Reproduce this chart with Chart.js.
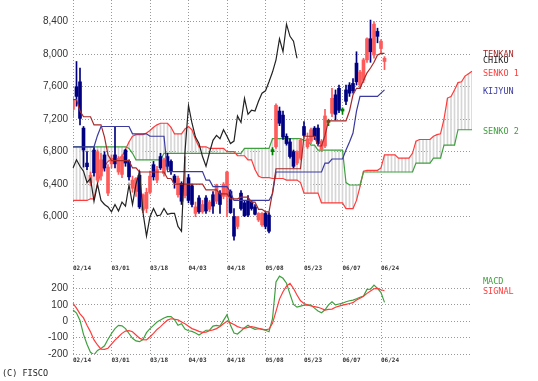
<!DOCTYPE html>
<html><head><meta charset="utf-8">
<script src="https://cdn.jsdelivr.net/npm/chart.js@4.4.1/dist/chart.umd.min.js"></script>
<style>
html,body{margin:0;padding:0;background:#fff;width:538px;height:381px;overflow:hidden;position:relative}
canvas{position:absolute;left:0}
#c1{top:0}
#c2{top:262px}
.lbl{position:absolute;font-family:"DejaVu Sans Mono",monospace;font-size:8.5px;line-height:10px;white-space:pre}
</style></head><body>
<canvas id="c1" width="538" height="264"></canvas>
<canvas id="c2" width="538" height="119"></canvas>
<div class="lbl" style="left:483px;top:49px;color:#a52a2a">TENKAN</div>
<div class="lbl" style="left:483px;top:55px;color:#222">CHIKO</div>
<div class="lbl" style="left:483px;top:68px;color:#ff3b3b">SENKO 1</div>
<div class="lbl" style="left:483px;top:86px;color:#3a3aa0">KIJYUN</div>
<div class="lbl" style="left:483px;top:126px;color:#3fa03f">SENKO 2</div>
<div class="lbl" style="left:483px;top:276px;color:#3fa03f">MACD</div>
<div class="lbl" style="left:483px;top:286px;color:#ff3b3b">SIGNAL</div>
<div class="lbl" style="left:2px;top:368px;color:#222">(C) FISCO</div>
<script>
// ---- data ----
const tickLabels = ['02/14','03/01','03/18','04/03','04/18','05/08','05/23','06/07','06/24'];
const TICK_STEP = 11;
const N = 115;
const mainTicks = [6000, 6400, 6800, 7200, 7600, 8000, 8400];
const macdTicks = [-200, -100, 0, 100, 200];

const open = [7320,7600,7660,7090,6660,6420,6820,6450,6500,6760,
 6290,6650,6760,6550,6520,6820,6680,6350,6310,6510,
 6080,6100,6300,6640,6450,6740,6530,6740,6680,6500,
 6270,6410,6260,6480,6380,6040,6230,6060,6230,6090,
 6270,6190,6290,6250,6250,6310,6000,5880,6290,6170,
 6190,6180,6120,5960,5900,6040,6020,6800,6860,7300,
 7250,6990,6920,6800,6660,6720,7110,6860,6930,7090,
 7090,6830,6870,7160,7272,7500,7580,7300,7560,7620,
 7640,7890,7620,7680,7930,8190,7990,8280,8070,7910];
const high = [7470,7910,7830,7110,6800,6550,6850,6820,6780,6800,
 6640,6760,7100,6740,6760,6830,6700,6500,6480,6560,
 6280,6350,6560,6680,6620,6780,6720,6780,6700,6520,
 6500,6430,6740,6520,6400,6180,6260,6200,6260,6200,
 6310,6400,6320,6420,6560,6330,6100,6000,6320,6200,
 6260,6200,6150,6050,6050,6060,6050,6850,7390,7350,
 7300,7020,6960,6820,6810,6960,7170,7030,7090,7110,
 7130,6950,7320,7200,7580,7560,7620,7340,7620,7650,
 7700,8030,7800,7950,8200,8420,8400,8320,8180,7970];
const low = [7230,7360,7130,6610,6580,6380,6500,6430,6450,6560,
 6260,6600,6600,6520,6480,6620,6450,6300,6250,6100,
 6050,6050,6280,6450,6420,6580,6500,6580,6520,6350,
 6240,6150,6230,6170,6120,6000,6040,6040,6040,6060,
 6040,6160,6040,6220,6000,6040,5710,5850,6080,6000,
 6000,6080,6020,5940,5880,5850,5800,6760,6840,7120,
 6950,6880,6720,6600,6640,6700,6980,6840,6900,6950,
 6880,6800,6850,7120,7230,7190,7280,7260,7380,7480,
 7520,7620,7580,7650,7900,7900,7950,8140,8020,7810];
const close = [7430,7480,7210,6820,6615,6510,6540,6800,6700,6600,
 6610,6720,6650,6720,6740,6660,6490,6450,6470,6120,
 6270,6300,6500,6490,6580,6600,6700,6620,6560,6420,
 6470,6190,6400,6200,6150,6120,6060,6150,6070,6180,
 6130,6390,6150,6400,6550,6050,5760,6000,6100,6010,
 6020,6100,6030,6040,6040,5880,5820,6800,7370,7150,
 6980,6900,6740,6620,6790,6940,7000,6960,7070,6990,
 6900,6930,7240,7160,7457,7260,7310,7300,7420,7520,
 7550,7660,7780,7930,8190,8030,8370,8220,8160,7950];

const tenkan = [7440,7440,7300,7230,7230,7230,7130,7130,7130,6980,
 6760,6690,6690,6690,6690,6690,6690,6600,6600,6550,
 6550,6550,6550,6550,6550,6550,6550,6470,6470,6400,
 6400,6400,6400,6400,6400,6400,6400,6400,6330,6330,
 6330,6330,6280,6280,6280,6220,6220,6220,6240,6240,
 6240,6180,6180,6090,6090,6060,6060,6300,6590,6590,
 6590,6590,6590,6590,6590,6590,6990,6990,6990,6990,
 6870,6870,7000,7180,7180,7180,7180,7180,7180,7300,
 7500,7580,7580,7680,7770,7830,7900,7990,8010,8010];
const kijun = [6860,6860,6860,6860,6860,6860,6860,7000,7110,7110,
 7110,7110,7110,7110,7110,7110,7110,7020,7020,7020,
 7020,7020,6990,6990,6990,6990,6990,6555,6555,6555,
 6555,6555,6555,6555,6555,6555,6555,6555,6450,6450,
 6370,6370,6370,6370,6370,6300,6200,6200,6200,6200,
 6200,6200,6200,6200,6200,6200,6200,6280,6550,6550,
 6550,6550,6550,6550,6550,6550,6550,6550,6550,6550,
 6550,6550,6660,6660,6710,6710,6710,6710,6820,6920,
 7030,7300,7480,7480,7480,7480,7480,7480,7520,7560];
const senko1 = [6200,6200,6200,6200,6200,6220,6220,6410,6540,6620,
 6680,6710,6710,6710,6740,6830,6920,6990,7010,7010,
 7010,7030,7060,7100,7130,7150,7150,7150,7100,7020,
 7020,7020,7080,7110,7070,6950,6860,6860,6860,6840,
 6840,6840,6840,6840,6800,6800,6800,6750,6750,6750,
 6700,6700,6580,6500,6480,6480,6480,6470,6470,6470,
 6470,6450,6450,6450,6450,6420,6290,6290,6290,6290,
 6290,6170,6170,6170,6170,6170,6170,6170,6100,6100,
 6100,6200,6370,6560,6570,6570,6570,6570,6600,6760,
 6760,6760,6760,6720,6720,6720,6720,6780,6930,6950,
 6950,6950,6950,6990,7010,7020,7200,7460,7480,7560,
 7650,7660,7730,7760,7790];
const senko2 = [6860,6860,6860,6860,6860,6860,6860,6860,6860,6860,
 6860,6860,6860,6860,6860,6860,6840,6780,6700,6700,
 6700,6700,6700,6700,6700,6700,6780,6780,6780,6780,
 6780,6780,6780,6780,6780,6780,6780,6780,6780,6780,
 6780,6780,6780,6780,6780,6780,6780,6780,6780,6840,
 6840,6840,6840,6840,6840,6840,6840,6960,6960,6960,
 6960,6960,6960,6960,6960,6960,6940,6940,6880,6880,
 6820,6820,6820,6820,6820,6820,6820,6820,6420,6390,
 6390,6390,6390,6550,6550,6550,6550,6550,6550,6550,
 6550,6550,6550,6550,6550,6550,6550,6550,6660,6660,
 6660,6660,6660,6720,6720,6720,6880,6880,6880,6880,
 7070,7070,7070,7070,7070];
const chikou = [6600,6700,6620,6560,6420,6470,6190,6400,6200,6150,
 6120,6060,6150,6070,6180,6130,6390,6150,6400,6550,
 6050,5760,6000,6100,6010,6020,6100,6030,6040,6040,
 5880,5820,6800,7370,7150,6980,6900,6740,6620,6790,
 6940,7000,6960,7070,6990,6900,6930,7240,7160,7457,
 7260,7310,7300,7420,7520,7550,7660,7780,7930,8190,
 8030,8370,8220,8160,7950];

const macd = [68,50,5,-80,-140,-190,-205,-178,-166,-150,
 -110,-75,-45,-25,-28,-45,-75,-104,-120,-125,
 -112,-70,-45,-25,-5,7,20,28,28,10,
 -25,-15,-48,-58,-62,-72,-84,-70,-55,-55,
 -30,-25,-30,5,40,-25,-72,-78,-60,-40,
 -25,-40,-50,-45,-50,-55,-64,15,240,275,
 262,232,165,102,86,92,98,100,98,80,
 62,52,70,100,119,100,105,110,119,125,
 129,137,146,153,194,195,220,200,175,115];
const signal = [109,80,45,20,-25,-65,-114,-145,-170,-172,
 -165,-140,-115,-95,-74,-60,-58,-64,-84,-104,
 -112,-114,-95,-74,-50,-33,-12,7,15,12,
 8,-5,-15,-30,-45,-53,-62,-68,-66,-58,
 -53,-45,-33,-15,0,-10,-20,-33,-40,-43,
 -38,-33,-38,-43,-48,-53,-48,-13,60,135,
 180,214,231,200,160,125,108,100,93,89,
 85,78,68,72,74,85,92,98,103,108,
 113,130,140,153,170,185,198,200,192,186];

// ---- styling ----
const UP = '#ff5a5a', DOWN = '#000080', DOJI = '#008000';
const cats = Array.from({length: N}, (_, i) => String(i));
const candleColors = open.map((o, i) => close[i] > o ? UP : (close[i] < o ? DOWN : DOJI));
const gridDash = [1, 2];
const isTick = i => i % TICK_STEP === 0 && i / TICK_STEP < tickLabels.length;
const xGridColor = c => isTick(c.index) ? '#999' : 'rgba(0,0,0,0)';
const tickCb = (v, i) => isTick(i) ? tickLabels[i / TICK_STEP] : '';
const fmt = v => String(v).replace(/\B(?=(\d{3})+(?!\d))/g, ',');
const yFont = {family: '"Liberation Sans", Arial, sans-serif', size: 10};
const xFont = {family: '"DejaVu Sans Mono", monospace', size: 6, weight: 'bold'};
const line = (data, color, order) => ({type: 'line', data, borderColor: color, borderWidth: 1.2,
  pointRadius: 0, tension: 0, fill: false, order});

new Chart(document.getElementById('c1'), {
  type: 'line',
  data: {
    labels: cats,
    datasets: [
      {type: 'bar', data: senko1.map((v, i) => [v, senko2[i]]), backgroundColor: '#d6d6d6',
       barThickness: 1, grouped: false, borderWidth: 0, order: 10},
      line(senko1, '#ff3b3b', 9),
      line(senko2, '#3fa03f', 8),
      {type: 'bar', data: high.map((h, i) => [low[i], h]), backgroundColor: candleColors,
       barThickness: 1, grouped: false, borderWidth: 0, order: 6},
      {type: 'bar', data: open.map((o, i) => [o, close[i]]), backgroundColor: candleColors,
       barThickness: 3, grouped: false, borderWidth: 0, minBarLength: 2, order: 5},
      line(kijun, '#3a3aa0', 3),
      line(tenkan, '#a52a2a', 2),
      line(chikou, '#222222', 1)
    ]
  },
  options: {
    responsive: false, animation: false, devicePixelRatio: 1, events: [],
    layout: {padding: {left: 0, top: 0, right: 66, bottom: 0}},
    plugins: {legend: {display: false}, tooltip: {enabled: false}},
    scales: {
      x: {type: 'category', offset: false,
          grid: {offset: false, color: xGridColor, drawTicks: false, lineWidth: 1},
          border: {display: false, dash: gridDash},
          ticks: {display: false, autoSkip: false},
          afterFit: s => { s.height = 2; s.paddingLeft = 0; s.paddingRight = 0; }},
      y: {min: 5442, max: 8667,
          afterBuildTicks: s => { s.ticks = mainTicks.map(v => ({value: v})); },
          ticks: {callback: v => fmt(v), color: '#333', font: yFont, padding: 5},
          grid: {color: '#999', drawTicks: false, lineWidth: 1},
          border: {display: false, dash: gridDash},
          afterFit: s => { s.width = 73; s.paddingTop = 0; s.paddingBottom = 0; }}
    }
  }
});

const xTickOpts = {autoSkip: false, maxRotation: 0, minRotation: 0, align: 'start', padding: 3,
  color: '#333', font: xFont, callback: tickCb};

new Chart(document.getElementById('c2'), {
  type: 'line',
  data: {
    labels: cats,
    datasets: [
      line(macd, '#3fa03f', 2),
      line(signal, '#ff3b3b', 1)
    ]
  },
  options: {
    responsive: false, animation: false, devicePixelRatio: 1, events: [],
    layout: {padding: {left: 0, top: 0, right: 66, bottom: 0}},
    plugins: {legend: {display: false}, tooltip: {enabled: false}},
    scales: {
      x: {type: 'category', position: 'bottom', offset: false,
          grid: {offset: false, color: xGridColor, drawTicks: false, lineWidth: 1},
          border: {display: false, dash: gridDash},
          ticks: xTickOpts,
          afterFit: s => { s.height = 27; s.paddingLeft = 0; s.paddingRight = 0; }},
      xTop: {type: 'category', position: 'top', offset: false,
          grid: {display: false, drawTicks: false, offset: false},
          border: {display: false},
          ticks: xTickOpts,
          afterFit: s => { s.height = 13; s.paddingLeft = 0; s.paddingRight = 0; }},
      y: {min: -200, max: 282,
          afterBuildTicks: s => { s.ticks = macdTicks.map(v => ({value: v})); },
          ticks: {callback: v => String(v), color: '#333', font: yFont, padding: 5},
          grid: {color: '#999', drawTicks: false, lineWidth: 1},
          border: {display: false, dash: gridDash},
          afterFit: s => { s.width = 73; s.paddingTop = 0; s.paddingBottom = 0; }}
    }
  }
});
</script>
</body></html>
